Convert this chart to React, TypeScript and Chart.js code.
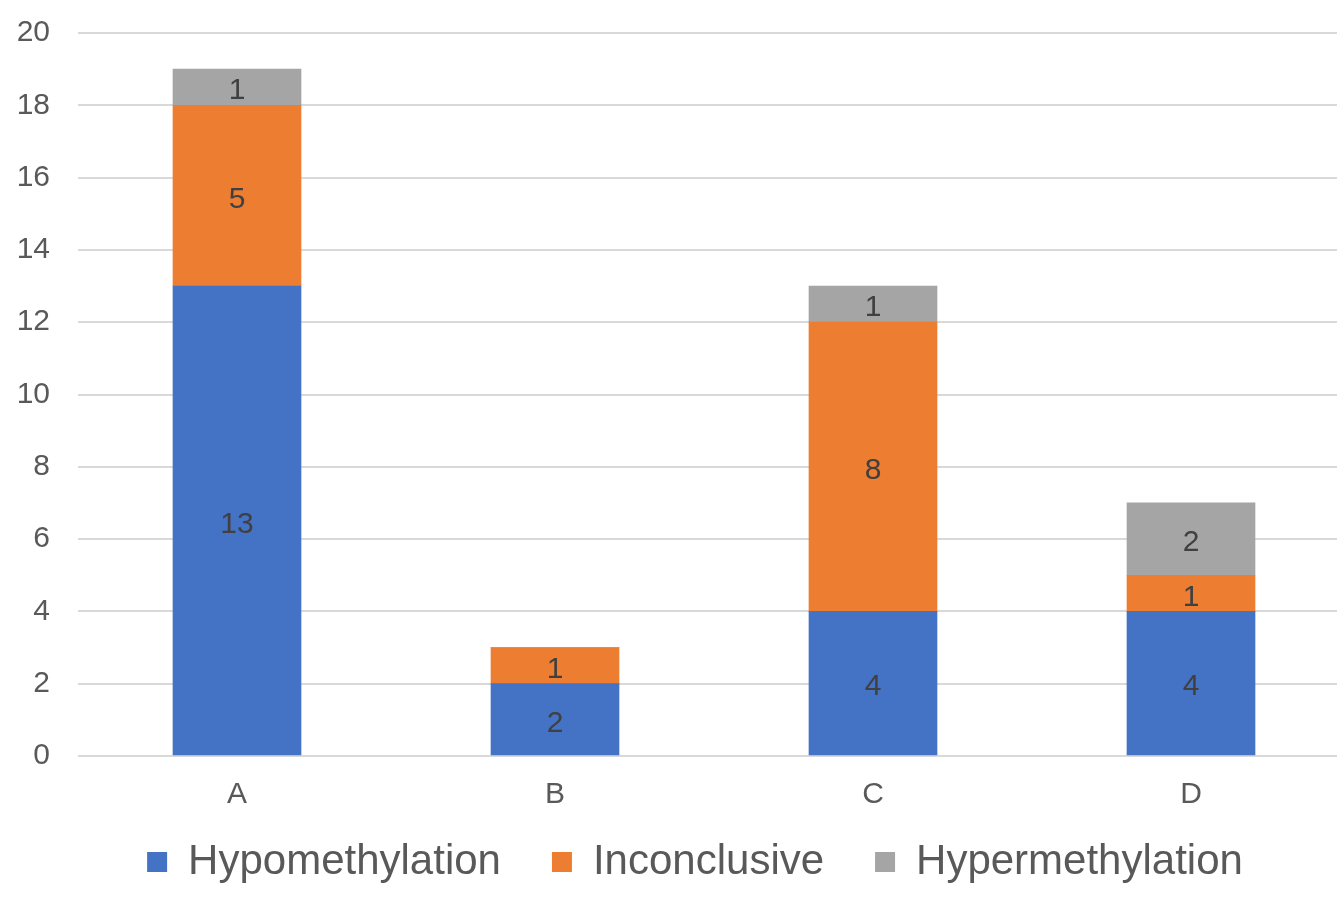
import React, { useEffect, useRef } from "react";
import { Chart, registerables } from "chart.js";

Chart.register(...registerables);

const categories = ["A", "B", "C", "D"];
const hypomethylation = [13, 2, 4, 4];
const inconclusive = [5, 1, 8, 1];
const hypermethylation = [1, 0, 1, 2];
const yTicks = [0, 2, 4, 6, 8, 10, 12, 14, 16, 18, 20];

const FONT = "'Liberation Sans', Arial, sans-serif";

// Writes each segment's value in the middle of its bar piece
const segmentLabels = {
  id: "segmentLabels",
  afterDatasetsDraw(chart: any) {
    const { ctx } = chart;
    ctx.save();
    ctx.font = `30px ${FONT}`;
    ctx.fillStyle = "#404040";
    ctx.textAlign = "center";
    ctx.textBaseline = "middle";
    chart.data.datasets.forEach((ds: any, di: number) => {
      const meta = chart.getDatasetMeta(di);
      meta.data.forEach((bar: any, i: number) => {
        const v = ds.data[i];
        if (!v) return;
        const { x, y, base } = bar.getProps(["x", "y", "base"], true);
        ctx.fillText(String(v), x, (y + base) / 2 + 4);
      });
    });
    ctx.restore();
  },
};

// Centres the legend row under the plot area and tucks it closer to the axis labels
const legendOffset = {
  id: "legendOffset",
  afterLayout(chart: any) {
    const lg = chart.legend;
    if (!lg) return;
    lg.left = 40;
    lg.top -= 20;
    lg.bottom -= 20;
  },
};

export default function App() {
  const ref = useRef<HTMLCanvasElement>(null);

  useEffect(() => {
    const chart = new Chart(ref.current!, {
      type: "bar",
      data: {
        labels: categories,
        datasets: [
          { label: "Hypomethylation", data: hypomethylation, backgroundColor: "#4472C4" },
          { label: "Inconclusive", data: inconclusive, backgroundColor: "#ED7D31" },
          { label: "Hypermethylation", data: hypermethylation, backgroundColor: "#A5A5A5" },
        ],
      },
      options: {
        animation: false,
        responsive: false,
        layout: { autoPadding: false, padding: { left: 0, top: 33, right: 0, bottom: -13 } },
        datasets: { bar: { barThickness: 128 } },
        scales: {
          x: {
            stacked: true,
            grid: { display: false, drawTicks: false },
            border: { display: false },
            ticks: { color: "#595959", font: { family: FONT, size: 30, lineHeight: 1 }, padding: 24 },
            afterFit: (scale: any) => {
              scale.height = 54;
            },
          },
          y: {
            stacked: true,
            min: 0,
            max: 20,
            afterBuildTicks: (scale: any) => {
              scale.ticks = yTicks.map((v) => ({ value: v }));
            },
            afterFit: (scale: any) => {
              scale.width = 78;
              scale.paddingTop = 0;
              scale.paddingBottom = 0;
            },
            grid: { color: "#D9D9D9", lineWidth: 2, drawTicks: false },
            border: { display: false },
            ticks: { color: "#595959", font: { family: FONT, size: 30 }, padding: 28 },
          },
        },
        plugins: {
          tooltip: { enabled: false },
          legend: {
            position: "bottom",
            labels: {
              color: "#595959",
              font: { family: FONT, size: 42 },
              boxWidth: 20,
              boxHeight: 20,
              padding: 51,
            },
          },
        },
      },
      plugins: [segmentLabels, legendOffset],
    });
    return () => chart.destroy();
  }, []);

  return (
    <div style={{ position: "absolute", left: 0, top: 0, width: 1337, height: 900, overflow: "hidden", background: "#fff" }}>
      <canvas ref={ref} width={1350} height={900} style={{ width: 1350, height: 900 }} />
    </div>
  );
}
